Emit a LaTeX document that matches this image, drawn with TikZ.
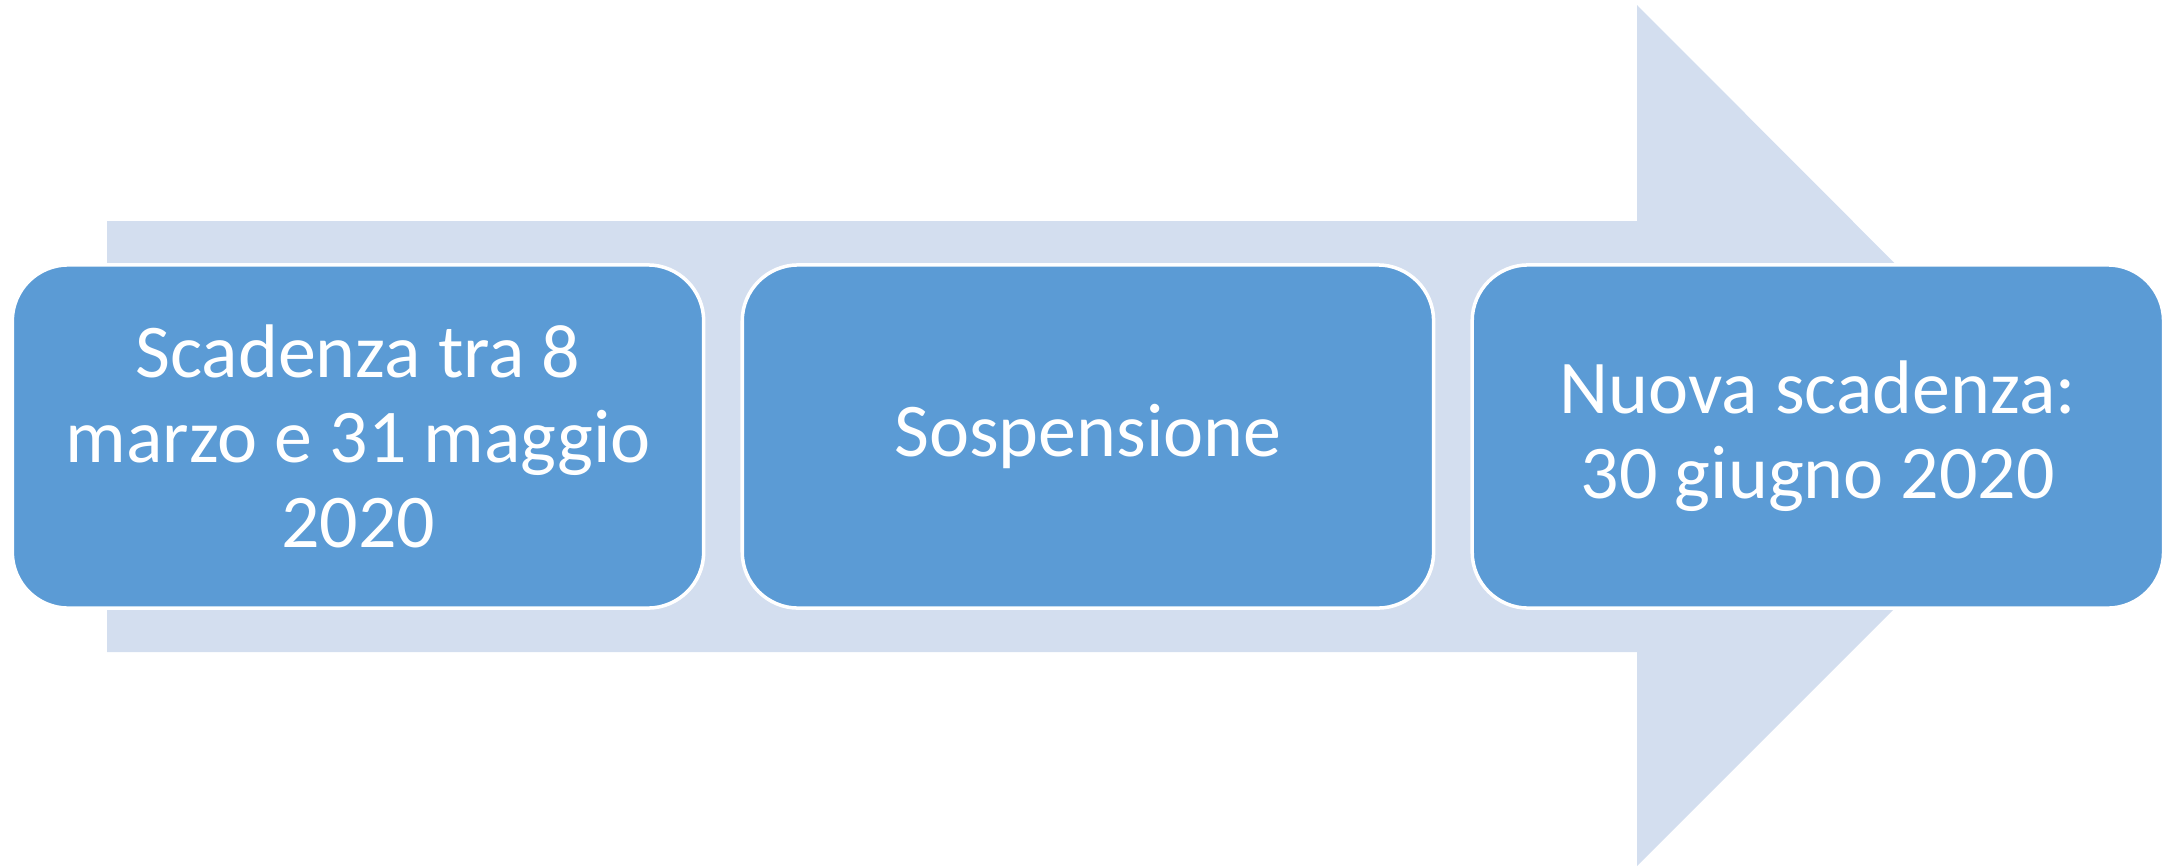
\documentclass[tikz,border=0pt]{standalone}
\usepackage{fontspec}
\setmainfont{Carlito}
\usetikzlibrary{positioning}
\definecolor{arrowblue}{HTML}{D3DEEF}
\definecolor{boxblue}{HTML}{5B9BD5}
\tikzset{stage/.style={draw=white, line width=1pt, fill=boxblue,
	rounded corners=0.56cm, minimum width=6.91cm, minimum height=3.43cm,
	align=center, text=white, font=\fontsize{21.6}{24.2}\selectfont}}

\begin{document}
\begin{tikzpicture}[x=0.01cm,y=-0.01cm]
	\useasboundingbox (0,0) rectangle (2165,866);
	% big arrow behind the stages
	\fill[arrowblue] (107,221) -- (1637,221) -- (1637,5) -- (2067,436)
		-- (1637,866) -- (1637,652) -- (107,652) -- cycle;
	\node[stage] (scad) at (358,436.5) {Scadenza tra 8\\marzo e 31 maggio\\2020};
	\node[stage, right=0.35cm of scad] (sosp) {Sospensione};
	\node[stage, right=0.35cm of sosp] (nuova) {Nuova scadenza:\\30 giugno 2020};
\end{tikzpicture}
\end{document}
